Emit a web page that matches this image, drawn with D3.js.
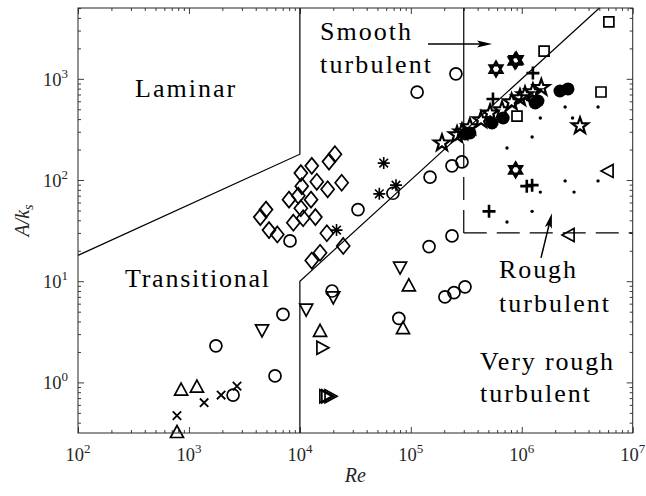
<!DOCTYPE html>
<html>
<head>
<meta charset="utf-8">
<script src="https://cdn.jsdelivr.net/npm/d3@7"></script>
<style>
  body { margin: 0; background: #fff; }
  svg { display: block; }
</style>
</head>
<body>
<svg id="chart" width="646" height="496"></svg>
<script>
// ---- data: [Re, A/ks] -------------------------------------------------
const openCircles = [
  [1.14e5, 740], [2.55e5, 1120], [3.34e4, 51], [1.49e5, 107], [2.35e5, 138],
  [2.89e5, 151], [6.9e4, 74], [8150, 25], [1.46e5, 22], [2.35e5, 28],
  [2.03e5, 7.0], [2.45e5, 7.7], [3.08e5, 8.8], [7.8e4, 4.3], [1.95e4, 8.0],
  [7040, 4.7], [1750, 2.3], [5970, 1.16], [2500, 0.75]
];
const diamonds = [
  [2.07e4, 180], [1.83e4, 152], [1.28e4, 138], [1.02e4, 117], [1.42e4, 96],
  [2.38e4, 94], [1.04e4, 87], [1.78e4, 81], [7980, 64], [9680, 70],
  [1.26e4, 64], [1.02e4, 52.6], [4950, 51], [4400, 43], [8730, 37.9],
  [1.07e4, 41.9], [1.38e4, 43], [5270, 32], [6260, 29], [1.75e4, 29.8],
  [1.52e4, 19.1], [1.28e4, 16], [2.46e4, 22.3]
];
const asterisks = [[5.7e4, 147], [5.2e4, 73], [7.35e4, 89], [2.14e4, 32]];
const crosses = [[780, 0.47], [1370, 0.63], [1950, 0.75], [2710, 0.92]];
const trianglesUp = [
  [850, 0.84], [1180, 0.90], [780, 0.32], [1.52e4, 3.2], [9.6e4, 9.0], [8.5e4, 3.4]
];
const trianglesDown = [[4560, 3.3], [1.14e4, 5.3], [2.0e4, 7.0], [8.0e4, 13.8]];
const trianglesRight = [[1.58e4, 2.2], [1.68e4, 0.73], [1.75e4, 0.73], [1.87e4, 0.73]];
const trianglesLeft = [[6.0e6, 123], [2.67e6, 28.6]];
const squares = [[6.1e6, 3650], [1.59e6, 1880], [5.18e6, 741], [9.06e5, 429]];
const pluses = [[1.26e6, 1140], [5.5e5, 632], [1.11e6, 87], [1.24e6, 89], [5.07e5, 49]];
const hexagrams = [[5.86e5, 1250], [8.7e5, 1500], [8.9e5, 1540], [8.8e5, 126]];
const pentagrams = [
  [1.91e5, 232], [3.35e6, 342], [2.61e5, 279], [2.89e5, 298], [3.41e5, 334],
  [4.29e5, 392], [5.18e5, 459], [6.64e5, 492], [8.1e5, 590], [9.64e5, 647],
  [1.07e6, 692], [1.26e6, 741], [1.5e6, 820]
];
const filledCircles = [
  [3.1e5, 285], [3.41e5, 292], [5.4e5, 366], [6.8e5, 410], [1.32e6, 577],
  [1.4e6, 604], [2.21e6, 758], [2.61e6, 794]
];
const dots = [
  [2.46e6, 527], [4.87e6, 527], [2.87e6, 410], [1.47e6, 410], [1.24e6, 266], [7.36e5, 207],
  [2.46e6, 98], [4.87e6, 98], [1.47e6, 76], [2.96e6, 76], [1.24e6, 49], [7.36e5, 38.5]
];

// regime boundaries
const laminarBoundary = [[1e2, 18], [1e4, 180], [1e4, 5012]];
const smoothBoundary = [[1e4, 0.3162], [1e4, 10], [5.012e6, 5012]];
const roughSolid = [[3e5, 5012], [3e5, 300]];
const roughDashV = [[3e5, 30], [3e5, 300]];
const roughDashH = [[3e5, 30], [1e7, 30]];

// tick label exponents
const xExponents = [2, 3, 4, 5, 6, 7];
const yExponents = [0, 1, 2, 3];

// region labels: text, Re, A (baseline-left anchor), width
const regionLabels = [
  ["Laminar", 327, 662, 100],
  ["Smooth", 1.52e4, 2420, 91],
  ["turbulent", 1.52e4, 1143, 111],
  ["Transitional", 265, 8.77, 144],
  ["Rough", 6.24e5, 10.8, 77],
  ["turbulent", 6.24e5, 4.97, 110],
  ["Very rough", 4.21e5, 1.33, 133],
  ["turbulent", 4.21e5, 0.641, 110]
];
// annotation arrows: [from, to]
const arrows = [
  [[1.43e5, 2210], [5.4e5, 2210]],
  [[1.49e6, 17], [1.87e6, 47]]
];

// ---- layout ----------------------------------------------------------
const svg = d3.select("#chart");
const X0 = 78, X1 = 632.7, Y0 = 433, Y1 = 8;
const x = d3.scaleLog().domain([1e2, 1e7]).range([X0, X1]);
const y = d3.scaleLog().domain([Math.pow(10, -0.5), Math.pow(10, 3.7)]).range([Y0, Y1]);
const axisColor = "#262626";
const serif = "'Liberation Serif', 'Times New Roman', serif";

// minor / major ticks
function logTicks(lo, hi) {
  const major = [], minor = [];
  for (let e = Math.floor(Math.log10(lo)); e <= Math.ceil(Math.log10(hi)); e++) {
    for (let m = 1; m <= 9; m++) {
      const v = m * Math.pow(10, e);
      if (v < lo * 0.999 || v > hi * 1.001) continue;
      (m === 1 ? major : minor).push(v);
    }
  }
  return { major, minor };
}
const xt = logTicks(1e2, 1e7);
const yt = logTicks(Math.pow(10, -0.5), Math.pow(10, 3.7));

const axes = svg.append("g").attr("class", "axes");
function addAxis(gen, tr, vals, size) {
  const g = axes.append("g").attr("transform", tr)
    .call(gen.tickValues(vals).tickSize(size).tickFormat(() => ""));
  g.select(".domain").remove();
  g.selectAll(".tick line").attr("stroke", axisColor).attr("stroke-width", 0.9);
  return g;
}
addAxis(d3.axisBottom(x), `translate(0,${Y0})`, xt.major, -6);
addAxis(d3.axisBottom(x), `translate(0,${Y0})`, xt.minor, -3);
addAxis(d3.axisTop(x), `translate(0,${Y1})`, xt.major, -6);
addAxis(d3.axisTop(x), `translate(0,${Y1})`, xt.minor, -3);
addAxis(d3.axisLeft(y), `translate(${X0},0)`, yt.major, -6);
addAxis(d3.axisLeft(y), `translate(${X0},0)`, yt.minor, -3);
addAxis(d3.axisRight(y), `translate(${X1},0)`, yt.major, -6);
addAxis(d3.axisRight(y), `translate(${X1},0)`, yt.minor, -3);

// tick labels with superscripts
const xl = axes.append("g").selectAll("text").data(xExponents).join("text")
  .attr("x", e => x(Math.pow(10, e))).attr("y", 461)
  .attr("text-anchor", "middle").attr("font-family", serif).attr("font-size", 18.5)
  .attr("fill", axisColor);
xl.append("tspan").text("10");
xl.append("tspan").attr("dy", -8).attr("font-size", 13).text(e => e);

const yl = axes.append("g").selectAll("text").data(yExponents).join("text")
  .attr("x", 68).attr("y", e => y(Math.pow(10, e)) + 7)
  .attr("text-anchor", "end").attr("font-family", serif).attr("font-size", 18.5)
  .attr("fill", axisColor);
yl.append("tspan").text("10");
yl.append("tspan").attr("dy", -8).attr("font-size", 13).text(e => e);

// axis titles
axes.append("text").attr("x", (X0 + X1) / 2).attr("y", 482)
  .attr("text-anchor", "middle").attr("font-family", serif).attr("font-style", "italic")
  .attr("font-size", 20).attr("fill", axisColor).text("Re");
const yTitle = axes.append("text")
  .attr("transform", `translate(29,${(Y0 + Y1) / 2}) rotate(-90)`)
  .attr("text-anchor", "middle").attr("font-family", serif).attr("font-style", "italic")
  .attr("font-size", 20).attr("fill", axisColor);
yTitle.append("tspan").text("A/k");
yTitle.append("tspan").attr("dy", 4).attr("font-size", 14).text("s");

// ---- regime boundaries -------------------------------------------------
const line = d3.line().x(d => x(d[0])).y(d => y(d[1]));
const plot = svg.append("g");
[laminarBoundary, smoothBoundary, roughSolid].forEach(p =>
  plot.append("path").attr("d", line(p)).attr("fill", "none")
    .attr("stroke", "#000").attr("stroke-width", 1.2));
[roughDashV, roughDashH].forEach(p =>
  plot.append("path").attr("d", line(p)).attr("fill", "none")
    .attr("stroke", "#000").attr("stroke-width", 1.2).attr("stroke-dasharray", "23,10"));

// ---- markers -----------------------------------------------------------
const shapes = {
  diamond: "M0,-8L6.5,0L0,8L-6.5,0Z",
  up: "M0,-7L6.5,5L-6.5,5Z",
  down: "M0,7L6.5,-5L-6.5,-5Z",
  right: "M7,0L-5,-6.5L-5,6.5Z",
  left: "M-7,0L5,-6.5L5,6.5Z",
  square: "M-5,-5H5V5H-5Z",
  plus: "M-6.5,0H6.5M0,-6.5V6.5",
  cross: "M-4.2,-4.2L4.2,4.2M-4.2,4.2L4.2,-4.2",
  asterisk: "M-6,0H6M0,-6V6M-4.3,-4.3L4.3,4.3M-4.3,4.3L4.3,-4.3",
  hexagram: "M0,-7.5L6.5,3.75L-6.5,3.75ZM0,7.5L6.5,-3.75L-6.5,-3.75Z",
  pentagram: (() => {
    const pts = [];
    for (let i = 0; i < 10; i++) {
      const r = i % 2 === 0 ? 8.5 : 3.4;
      const a = -Math.PI / 2 + i * Math.PI / 5;
      pts.push([r * Math.cos(a), r * Math.sin(a)]);
    }
    return "M" + pts.map(p => p.join(",")).join("L") + "Z";
  })()
};

function drawPaths(data, shape, sw) {
  plot.append("g").selectAll("path").data(data).join("path")
    .attr("transform", d => `translate(${x(d[0])},${y(d[1])})`)
    .attr("d", shapes[shape]).attr("fill", "none")
    .attr("stroke", "#000").attr("stroke-width", sw || 1.7)
    .attr("stroke-linejoin", "miter");
}
plot.append("g").selectAll("circle").data(openCircles).join("circle")
  .attr("cx", d => x(d[0])).attr("cy", d => y(d[1])).attr("r", 6)
  .attr("fill", "none").attr("stroke", "#000").attr("stroke-width", 1.7);
drawPaths(diamonds, "diamond");
drawPaths(asterisks, "asterisk", 1.6);
drawPaths(crosses, "cross", 1.8);
drawPaths(trianglesUp, "up");
drawPaths(trianglesDown, "down");
drawPaths(trianglesRight, "right");
drawPaths(trianglesLeft, "left");
drawPaths(squares, "square");
drawPaths(pluses, "plus", 2.6);
drawPaths(hexagrams, "hexagram", 2.2);
drawPaths(pentagrams, "pentagram", 2.2);
plot.append("g").selectAll("circle").data(filledCircles).join("circle")
  .attr("cx", d => x(d[0])).attr("cy", d => y(d[1])).attr("r", 6.5).attr("fill", "#000");
plot.append("g").selectAll("circle").data(dots).join("circle")
  .attr("cx", d => x(d[0])).attr("cy", d => y(d[1])).attr("r", 1.7).attr("fill", "#000");

// ---- region labels and arrows ------------------------------------------
svg.append("g").selectAll("text").data(regionLabels).join("text")
  .attr("x", d => x(d[1])).attr("y", d => y(d[2]))
  .attr("font-family", serif).attr("font-size", 26).attr("fill", "#000")
  .attr("textLength", d => d[3]).attr("lengthAdjust", "spacing")
  .text(d => d[0]);

const ag = svg.append("g");
arrows.forEach(([a, b]) => {
  const x1 = x(a[0]), y1 = y(a[1]), x2 = x(b[0]), y2 = y(b[1]);
  const ang = Math.atan2(y2 - y1, x2 - x1);
  const L = 15, W = 3.6;
  const bx = x2 - L * Math.cos(ang), by = y2 - L * Math.sin(ang);
  const nx = -Math.sin(ang), ny = Math.cos(ang);
  ag.append("line").attr("x1", x1).attr("y1", y1).attr("x2", bx + 4 * Math.cos(ang)).attr("y2", by + 4 * Math.sin(ang))
    .attr("stroke", "#000").attr("stroke-width", 1.5);
  ag.append("path")
    .attr("d", `M${x2},${y2}L${bx + W * nx},${by + W * ny}L${bx + 3 * Math.cos(ang)},${by + 3 * Math.sin(ang)}L${bx - W * nx},${by - W * ny}Z`)
    .attr("fill", "#000");
});

// frame
svg.append("rect").attr("x", X0).attr("y", Y1).attr("width", X1 - X0).attr("height", Y0 - Y1)
  .attr("fill", "none").attr("stroke", axisColor).attr("stroke-width", 1);
</script>
</body>
</html>
